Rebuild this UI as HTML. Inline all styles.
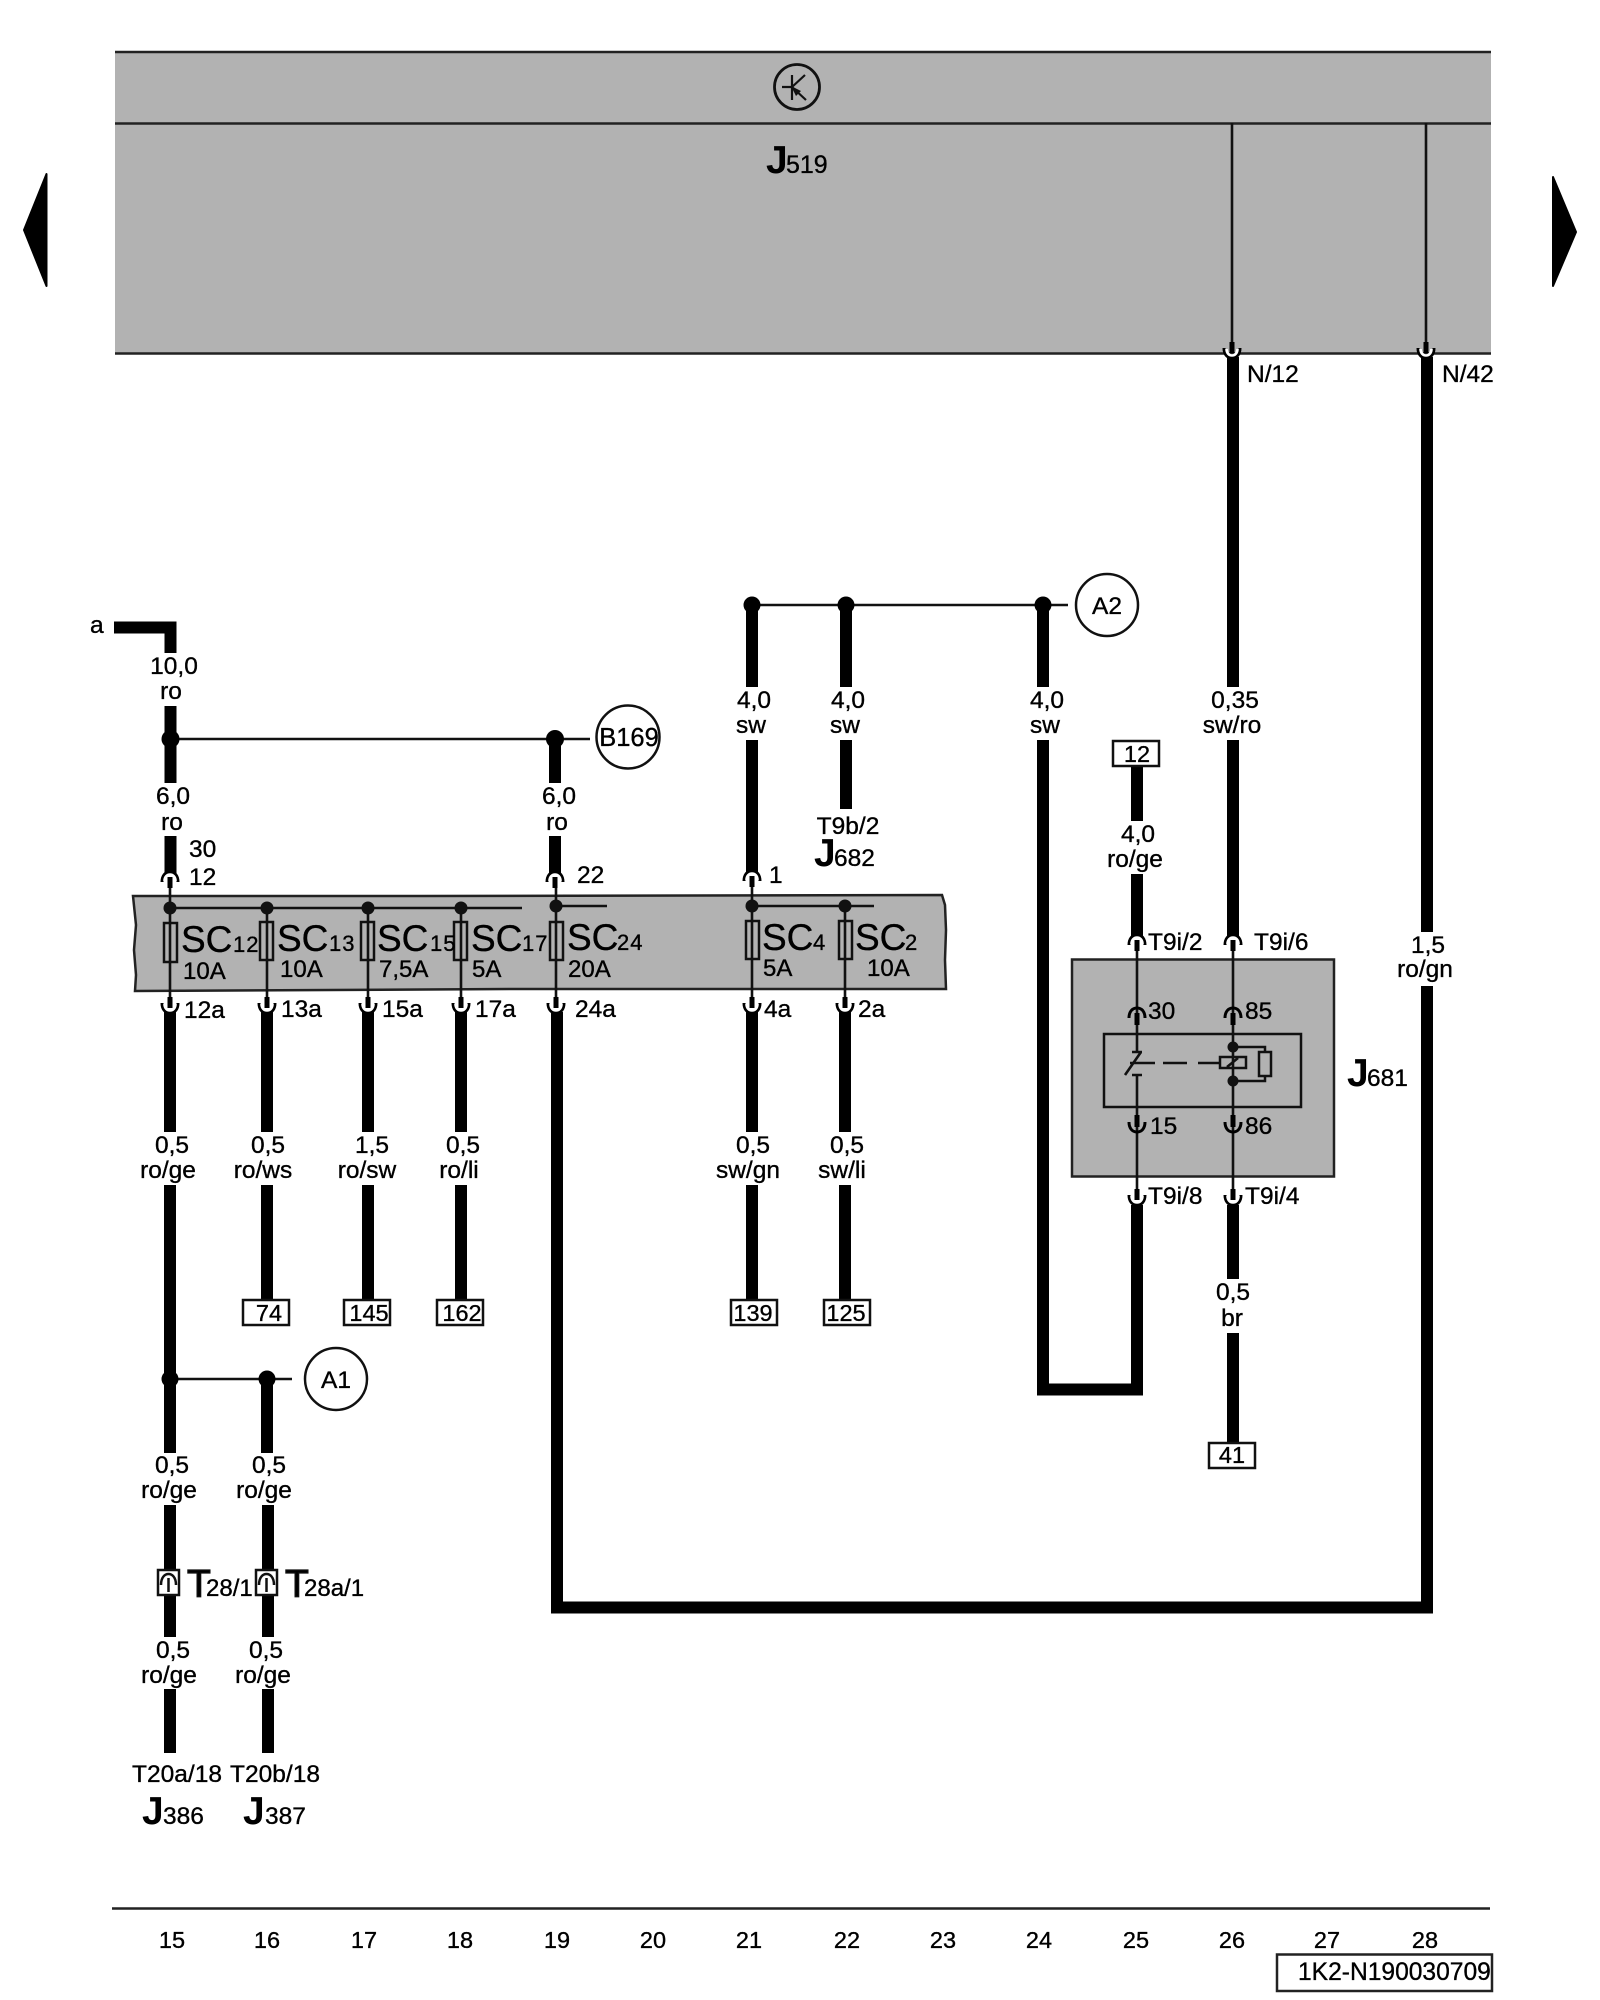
<!DOCTYPE html>
<html><head><meta charset="utf-8"><style>
html,body{margin:0;padding:0;background:#fff;width:1600px;height:2000px;overflow:hidden}
svg{display:block}
text{font-family:"Liberation Sans",sans-serif;fill:#000;stroke:#000;stroke-width:.35}
.l{font-size:24.500px}
.m{text-anchor:middle}
.J{font-size:39px;font-weight:bold;stroke:none}
.n{font-size:24.500px}
.S{font-size:37px}
.s{font-size:22px;letter-spacing:1px}
.a{font-size:24px}
.b{font-size:23.500px;stroke-width:.7}
.w{stroke:#000;stroke-width:12;fill:none;stroke-linejoin:miter}
.t{stroke:#111;stroke-width:2.6;fill:none}
.f{stroke:#111;stroke-width:2.5;fill:none}
</style></head><body>
<svg width="1600" height="2000" viewBox="0 0 1600 2000" xmlns="http://www.w3.org/2000/svg">
<defs>
<g id="u"><path d="M-8 2C-8-4-5-8 0-8C5-8 8-4 8 2" fill="none" stroke="#000" stroke-width="3"/><rect x="-2.500" y="-3" width="5" height="12" fill="#000"/></g>
<g id="uw"><path d="M-8 2C-8-4-5-8 0-8C5-8 8-4 8 2" fill="none" stroke="#000" stroke-width="3"/><path d="M-5.500 1C-5.500-3-3-5.500 0-5.500C3-5.500 5.500-3 5.500 1" fill="none" stroke="#fff" stroke-width="2.600"/><rect x="-2.500" y="-3" width="5" height="11" fill="#000"/></g>
<g id="d"><path d="M-8-2C-8 4-5 8 0 8C5 8 8 4 8-2" fill="none" stroke="#000" stroke-width="3"/><rect x="-2.500" y="-9" width="5" height="12" fill="#000"/></g>
<g id="dw"><path d="M-8-2C-8 4-5 8 0 8C5 8 8 4 8-2" fill="none" stroke="#000" stroke-width="3"/><path d="M-5.500-1C-5.500 3-3 5.500 0 5.500C3 5.500 5.500 3 5.500-1" fill="none" stroke="#fff" stroke-width="2.600"/><rect x="-2.500" y="-8" width="5" height="11" fill="#000"/></g>
</defs>

<!-- top panel -->
<rect x="115" y="51" width="1376" height="303" fill="#b2b2b2"/>
<path d="M115 52H1491M115 123.500H1491M115 353.500H1491" stroke="#222" stroke-width="2.600"/>
<circle cx="797" cy="87" r="22.500" fill="none" stroke="#111" stroke-width="2.800"/>
<path d="M782 87H792M792 75V100M805 75L792 87" stroke="#111" stroke-width="2.200" fill="none"/>
<path d="M792 87L806 100" stroke="#111" stroke-width="2.200"/><path d="M791 86L801 91L796 96Z" fill="#111"/>
<text class="J" x="766" y="173">J</text><text class="n" x="786" y="173" style="font-size:25px">519</text>
<path d="M1232 123V350M1426 123V350" class="t"/>
<path d="M46.500 174V286L24 230Z" fill="#000" stroke="#000" stroke-width="2" stroke-linejoin="round"/>
<path d="M1553 177V286L1576 232Z" fill="#000" stroke="#000" stroke-width="2" stroke-linejoin="round"/>

<!-- fuse panel -->
<path d="M133 896H420L942 895L945 905L946 930L945 960L946 989H520L135 991L136 975L134 950L136 925Z" fill="#b2b2b2" stroke="#222" stroke-width="2.500"/>
<path d="M170 908H522M556 906H607M752 906H874" class="t"/>
<path d="M170 880V1005M267 908V1005M368 908V1005M461 908V1005M556 880V1005M752 880V1005M845 906V1005" class="t"/>
<g fill="#111"><circle cx="170" cy="908" r="6.500"/><circle cx="267" cy="908" r="6.500"/><circle cx="368" cy="908" r="6.500"/><circle cx="461" cy="908" r="6.500"/><circle cx="556" cy="906" r="6.500"/><circle cx="752" cy="906" r="6.500"/><circle cx="845" cy="906" r="6.500"/></g>
<g class="f"><rect x="164" y="923" width="13" height="39"/><rect x="260" y="922" width="13" height="38"/><rect x="361" y="922" width="13" height="38"/><rect x="454" y="922" width="13" height="38"/><rect x="550" y="922" width="13" height="38"/><rect x="746" y="921" width="13" height="38"/><rect x="839" y="921" width="13" height="38"/></g>
<text class="S" x="181" y="952">SC</text><text class="s" x="233" y="952">12</text><text class="a" x="183" y="979">10A</text>
<text class="S" x="277" y="951">SC</text><text class="s" x="329" y="951">13</text><text class="a" x="280" y="977">10A</text>
<text class="S" x="377" y="951">SC</text><text class="s" x="430" y="951">15</text><text class="a" x="379" y="977">7,5A</text>
<text class="S" x="471" y="951">SC</text><text class="s" x="522" y="951">17</text><text class="a" x="472" y="977">5A</text>
<text class="S" x="567" y="950">SC</text><text class="s" x="617" y="950">24</text><text class="a" x="568" y="977">20A</text>
<text class="S" x="762" y="950">SC</text><text class="s" x="813" y="950">4</text><text class="a" x="763" y="976">5A</text>
<text class="S" x="855" y="950">SC</text><text class="s" x="905" y="950">2</text><text class="a" x="867" y="976">10A</text>

<!-- J681 box -->
<rect x="1072" y="959.500" width="262" height="217" fill="#b2b2b2" stroke="#222" stroke-width="2.500"/>
<rect x="1104" y="1034" width="197" height="73" fill="none" stroke="#111" stroke-width="2.500"/>
<path d="M1137 943V1052M1132 1052H1142M1132 1075H1142M1137 1075V1197M1125 1075L1141 1052" class="t"/>
<path d="M1233 943V1197" class="t"/>
<path d="M1130 1063H1155M1163 1063H1187M1198 1063H1220" class="t"/>
<rect x="1220" y="1057" width="26" height="11" fill="none" stroke="#111" stroke-width="2.500"/>
<path d="M1227 1067L1238 1058" class="f"/>
<path d="M1233 1047H1265V1052M1265 1076V1081H1233" class="f"/>
<rect x="1259" y="1052" width="12" height="24" fill="none" stroke="#111" stroke-width="2.500"/>
<circle cx="1233" cy="1047" r="5.500" fill="#111"/><circle cx="1233" cy="1081" r="5.500" fill="#111"/>

<!-- thick wires -->
<g class="w">
<path d="M114 627.500H170.500V653"/>
<path d="M170.500 706V783M555 739V783M170.500 836V874M555 836V874"/>
<path d="M752 605V687M846 605V687M1043 605V687M752 740V873M846 740V809"/>
<path d="M1043 740V1389.500H1137V1205"/>
<path d="M1137 766V821M1137 874V937"/>
<path d="M1233 357V687M1233 740V937"/>
<path d="M1427 357V932M1427 986V1607.500H557V1012"/>
<path d="M170 1012V1132M267 1012V1132M368 1012V1132M461 1012V1132M752 1012V1132M845 1012V1132"/>
<path d="M170 1185V1453M267 1185V1300M368 1185V1300M461 1185V1300M752 1185V1300M845 1185V1300"/>
<path d="M267 1379V1453M170 1505V1637M268 1505V1637M170 1689V1753M268 1689V1753"/>
<path d="M1233 1205V1279M1233 1333V1443"/>
</g>

<!-- connectors -->
<use href="#dw" x="1232" y="350"/><use href="#dw" x="1426" y="350"/>
<use href="#uw" x="170" y="880"/><use href="#uw" x="555" y="880"/><use href="#uw" x="752" y="879"/>
<use href="#dw" x="170" y="1005"/><use href="#dw" x="267" y="1005"/><use href="#dw" x="368" y="1005"/><use href="#dw" x="461" y="1005"/><use href="#dw" x="556" y="1005"/><use href="#dw" x="752" y="1005"/><use href="#dw" x="845" y="1005"/>
<use href="#uw" x="1137" y="943"/><use href="#uw" x="1233" y="943"/>
<use href="#u" x="1137" y="1016"/><use href="#u" x="1233" y="1016"/>
<use href="#d" x="1137" y="1124"/><use href="#d" x="1233" y="1124"/>
<use href="#dw" x="1137" y="1197"/><use href="#dw" x="1233" y="1197"/>

<!-- junction buses & circles -->
<path d="M170 739H590M752 605H1068M170 1379H292" class="t"/>
<g fill="#000"><circle cx="170.500" cy="739" r="9"/><circle cx="555" cy="739" r="9"/><circle cx="752" cy="605" r="8.500"/><circle cx="846" cy="605" r="8.500"/><circle cx="1043" cy="605" r="8.500"/><circle cx="170" cy="1379" r="8.500"/><circle cx="267" cy="1379" r="8.500"/></g>
<g fill="#fff" stroke="#111" stroke-width="2.500"><circle cx="628" cy="737" r="31.500"/><circle cx="1107" cy="605" r="31"/><circle cx="336" cy="1379" r="31"/></g>
<text class="l m" x="629" y="746" style="font-size:25.500px">B169</text><text class="l m" x="1107" y="614">A2</text><text class="l m" x="336" y="1388">A1</text>

<!-- terminal boxes -->
<g fill="#fff" stroke="#111" stroke-width="2.500"><rect x="1113" y="741" width="46" height="25"/><rect x="243" y="1300" width="46" height="25"/><rect x="344" y="1300" width="46" height="25"/><rect x="437" y="1300" width="46" height="25"/><rect x="731" y="1300" width="46" height="25"/><rect x="824" y="1300" width="46" height="25"/><rect x="1209" y="1443" width="46" height="25"/></g>
<g class="b m"><text x="1137" y="762">12</text><text x="269" y="1321">74</text><text x="369" y="1321">145</text><text x="462" y="1321">162</text><text x="753" y="1321">139</text><text x="846" y="1321">125</text><text x="1232" y="1463">41</text></g>

<!-- T boxes -->
<g fill="#fff" stroke="#111" stroke-width="2.500"><rect x="158" y="1570" width="21" height="25"/><rect x="256" y="1570" width="21" height="25"/></g>
<path d="M161 1585C161 1577 165 1574 168.500 1574C172 1574 176 1577 176 1585M168.500 1578V1592M259 1585C259 1577 263 1574 266.500 1574C270 1574 274 1577 274 1585M266.500 1578V1592" fill="none" stroke="#111" stroke-width="2.500"/>
<text class="J" x="187" y="1597" style="font-weight:normal;stroke:#111;stroke-width:1.200">T</text><text class="n" x="206" y="1596" style="font-size:24px">28/1</text>
<text class="J" x="285" y="1597" style="font-weight:normal;stroke:#111;stroke-width:1.200">T</text><text class="n" x="304" y="1596" style="font-size:24px">28a/1</text>

<!-- wire labels -->
<g class="l">
<text x="90" y="633">a</text>
<g class="m">
<text x="174" y="674">10,0</text><text x="171" y="699">ro</text>
<text x="173" y="804">6,0</text><text x="172" y="830">ro</text>
<text x="559" y="804">6,0</text><text x="557" y="830">ro</text>
<text x="754" y="708">4,0</text><text x="751" y="733">sw</text>
<text x="848" y="708">4,0</text><text x="845" y="733">sw</text>
<text x="1047" y="708">4,0</text><text x="1045" y="733">sw</text>
<text x="1235" y="708">0,35</text><text x="1232" y="733">sw/ro</text>
<text x="1428" y="953">1,5</text><text x="1425" y="977">ro/gn</text>
<text x="848" y="834">T9b/2</text>
<text x="1138" y="842">4,0</text><text x="1135" y="867">ro/ge</text>
<text x="172" y="1153">0,5</text><text x="168" y="1178">ro/ge</text>
<text x="268" y="1153">0,5</text><text x="263" y="1178">ro/ws</text>
<text x="372" y="1153">1,5</text><text x="367" y="1178">ro/sw</text>
<text x="463" y="1153">0,5</text><text x="459" y="1178">ro/li</text>
<text x="753" y="1153">0,5</text><text x="748" y="1178">sw/gn</text>
<text x="847" y="1153">0,5</text><text x="842" y="1178">sw/li</text>
<text x="1233" y="1300">0,5</text><text x="1232" y="1326">br</text>
<text x="172" y="1473">0,5</text><text x="169" y="1498">ro/ge</text>
<text x="269" y="1473">0,5</text><text x="264" y="1498">ro/ge</text>
<text x="173" y="1658">0,5</text><text x="169" y="1683">ro/ge</text>
<text x="266" y="1658">0,5</text><text x="263" y="1683">ro/ge</text>
<text x="177" y="1782">T20a/18</text><text x="275" y="1782">T20b/18</text>
</g>
<text x="189" y="857">30</text><text x="189" y="885">12</text><text x="577" y="883">22</text><text x="769" y="883">1</text>
<text x="184" y="1018">12a</text><text x="281" y="1017">13a</text><text x="382" y="1017">15a</text><text x="475" y="1017">17a</text><text x="575" y="1017">24a</text><text x="764" y="1017">4a</text><text x="858" y="1017">2a</text>
<text x="1247" y="382">N/12</text><text x="1442" y="382">N/42</text>
<text x="1148" y="950">T9i/2</text><text x="1254" y="950">T9i/6</text><text x="1148" y="1204">T9i/8</text><text x="1245" y="1204">T9i/4</text>
<text x="1148" y="1019">30</text><text x="1245" y="1019">85</text><text x="1150" y="1134">15</text><text x="1245" y="1134">86</text>
</g>

<text class="J" x="814" y="866">J</text><text class="n" x="834" y="866">682</text>
<text class="J" x="1347" y="1086">J</text><text class="n" x="1367" y="1086">681</text>
<text class="J" x="142" y="1824">J</text><text class="n" x="163" y="1824">386</text>
<text class="J" x="243" y="1824">J</text><text class="n" x="265" y="1824">387</text>

<!-- footer -->
<path d="M112 1908.500H1490" stroke="#222" stroke-width="2.600"/>
<g class="b m"><text x="172" y="1948">15</text><text x="267" y="1948">16</text><text x="364" y="1948">17</text><text x="460" y="1948">18</text><text x="557" y="1948">19</text><text x="653" y="1948">20</text><text x="749" y="1948">21</text><text x="847" y="1948">22</text><text x="943" y="1948">23</text><text x="1039" y="1948">24</text><text x="1136" y="1948">25</text><text x="1232" y="1948">26</text><text x="1327" y="1948">27</text><text x="1425" y="1948">28</text></g>
<rect x="1277" y="1954.500" width="215" height="36.500" fill="none" stroke="#222" stroke-width="2.500"/>
<text x="1298" y="1980" style="font-size:24.600px">1K2-N190030709</text>
</svg>
</body></html>
